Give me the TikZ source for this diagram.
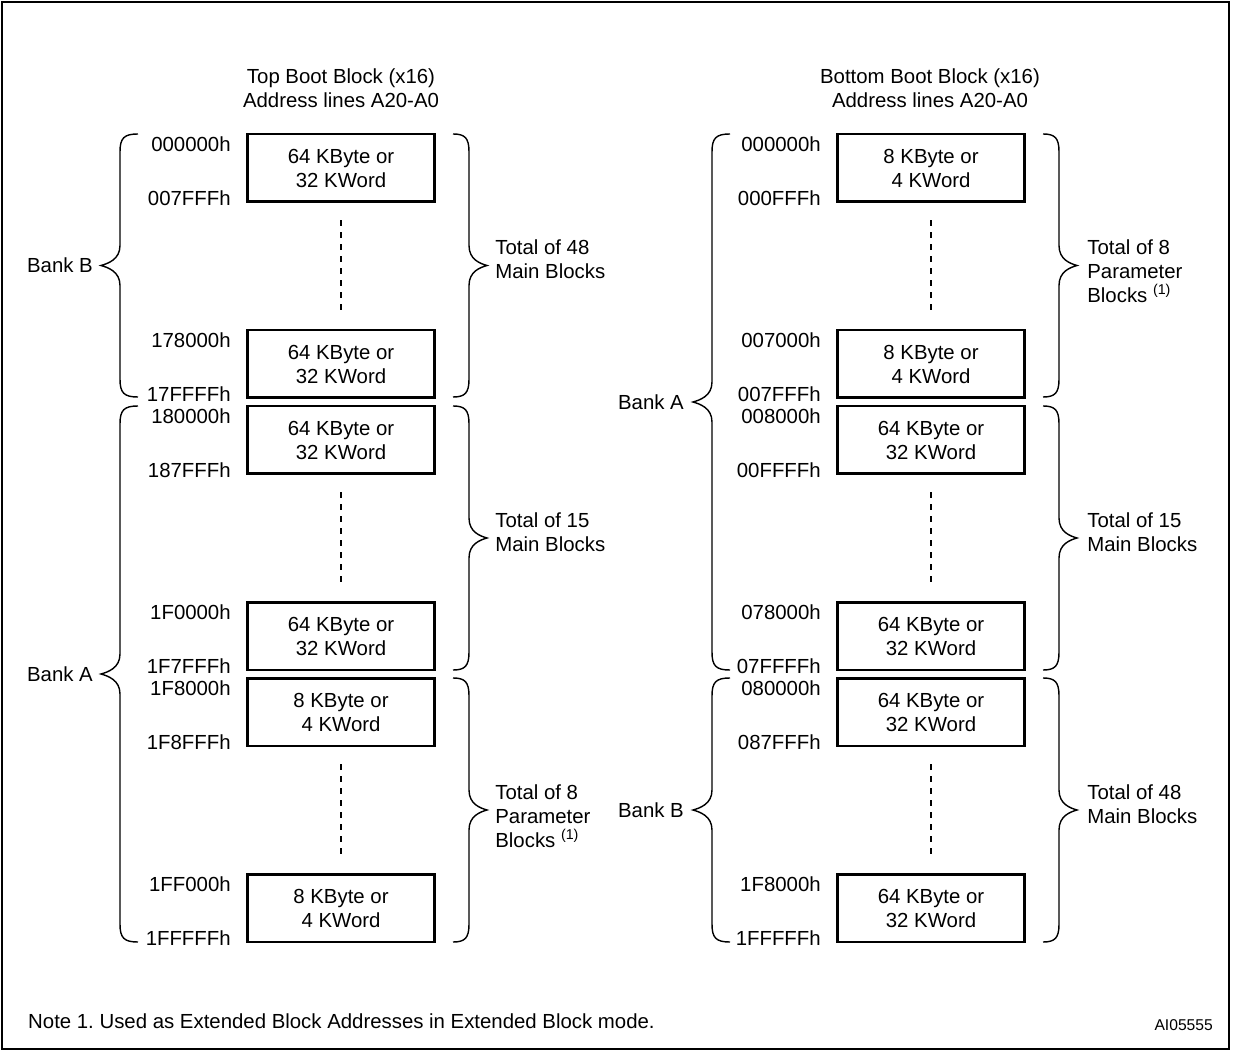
\documentclass[tikz,border=0pt]{standalone}
\usepackage{fontspec}
\setmainfont{Liberation Sans}
\usetikzlibrary{calc}
\frenchspacing

\tikzset{
  blk/.style={draw, line width=1.7pt, minimum width=3.74cm, minimum height=1.36cm,
              align=center, inner sep=0pt},
  adr/.style={anchor=east, inner sep=0pt},
  tot/.style={anchor=north west, align=left, inner sep=0pt},
  brc/.style={line width=0.8pt},
  gap/.style={line width=1.4pt, dash pattern=on 0.12cm off 0.12cm},
}

% brace opening to the right: hook end x, top y, bottom y
\newcommand{\leftbrc}[3]{%
  \pgfmathsetmacro{\bmid}{(#2+#3)/2}
  \draw[brc] (#1,#2) .. controls (#1-14,#2) and (#1-18,#2+4) .. (#1-18,#2+18)
    -- (#1-18,\bmid-20) .. controls (#1-18,\bmid-6) and (#1-30,\bmid-2) .. (#1-37,\bmid)
    .. controls (#1-30,\bmid+2) and (#1-18,\bmid+6) .. (#1-18,\bmid+20)
    -- (#1-18,#3-18) .. controls (#1-18,#3-4) and (#1-14,#3) .. (#1,#3);}
% brace opening to the left: hook start x, top y, bottom y
\newcommand{\rightbrc}[3]{%
  \pgfmathsetmacro{\bmid}{(#2+#3)/2}
  \draw[brc] (#1,#2) .. controls (#1+12,#2) and (#1+16,#2+4) .. (#1+16,#2+18)
    -- (#1+16,\bmid-20) .. controls (#1+16,\bmid-6) and (#1+27,\bmid-2) .. (#1+34,\bmid)
    .. controls (#1+27,\bmid+2) and (#1+16,\bmid+6) .. (#1+16,\bmid+20)
    -- (#1+16,#3-18) .. controls (#1+16,#3-4) and (#1+12,#3) .. (#1,#3);}

\begin{document}
\begin{tikzpicture}[x=0.02cm, y=-0.02cm,
  every node/.style={font=\fontsize{11.6pt}{13.66pt}\selectfont}]
\useasboundingbox (0,0) rectangle (1233,1053);
\draw [line width=1.2pt] (2,2) rectangle (1229,1049);

% titles
\node [align=center] (ttop) at (341,88) {Top Boot Block (x16)\\Address lines A20-A0};
\node [align=center] (tbot) at (930,88) {Bottom Boot Block (x16)\\Address lines A20-A0};

% top boot block column
\node [blk] (tb1) at (341,168) {64 KByte or\\32 KWord};
\node [blk] (tb2) at (341,364) {64 KByte or\\32 KWord};
\node [blk] (tb3) at (341,440) {64 KByte or\\32 KWord};
\node [blk] (tb4) at (341,636) {64 KByte or\\32 KWord};
\node [blk] (tb5) at (341,712) {8 KByte or\\4 KWord};
\node [blk] (tb6) at (341,908) {8 KByte or\\4 KWord};

% bottom boot block column
\node [blk] (bb1) at (931,168) {8 KByte or\\4 KWord};
\node [blk] (bb2) at (931,364) {8 KByte or\\4 KWord};
\node [blk] (bb3) at (931,440) {64 KByte or\\32 KWord};
\node [blk] (bb4) at (931,636) {64 KByte or\\32 KWord};
\node [blk] (bb5) at (931,712) {64 KByte or\\32 KWord};
\node [blk] (bb6) at (931,908) {64 KByte or\\32 KWord};

\foreach \n/\lo/\hi in {tb1/000000h/007FFFh, tb2/178000h/17FFFFh, tb3/180000h/187FFFh,
    tb4/1F0000h/1F7FFFh, tb5/1F8000h/1F8FFFh, tb6/1FF000h/1FFFFFh,
    bb1/000000h/000FFFh, bb2/007000h/007FFFh, bb3/008000h/00FFFFh,
    bb4/078000h/07FFFFh, bb5/080000h/087FFFh, bb6/1F8000h/1FFFFFh} {
  \node [adr] (\n-lo) at ($(\n.north west)+(-15,12)$) {\lo};
  \node [adr] (\n-hi) at ($(\n.south west)+(-15,-5)$) {\hi};
}

\foreach \a/\b in {tb1/tb2, tb3/tb4, tb5/tb6, bb1/bb2, bb3/bb4, bb5/bb6}
  \draw [gap] ($(\a.south)+(0,17)$) -- ($(\b.north)+(0,-19)$);

% braces, left column
\leftbrc{138}{134}{397}
\leftbrc{138}{406}{942}
\rightbrc{453}{134}{397}
\rightbrc{453}{406}{670}
\rightbrc{453}{678}{942}
\node [anchor=east] (bankB1) at (99,265.5) {Bank B};
\node [anchor=east] (bankA1) at (99,674) {Bank A};
\node [tot] (tot48a) at (495,239.5) {Total of 48\\Main Blocks};
\node [tot] (tot15a) at (495,512) {Total of 15\\Main Blocks};
\node [tot] (tot8a) at (495,784) {Total of 8\\Parameter\\Blocks \textsuperscript{(1)}};

% braces, right column
\leftbrc{730}{134}{670}
\leftbrc{730}{678}{942}
\rightbrc{1043}{134}{397}
\rightbrc{1043}{406}{670}
\rightbrc{1043}{678}{942}
\node [anchor=east] (bankA2) at (690,402) {Bank A};
\node [anchor=east] (bankB2) at (690,810) {Bank B};
\node [tot] (tot8b) at (1087,239.5) {Total of 8\\Parameter\\Blocks \textsuperscript{(1)}};
\node [tot] (tot15b) at (1087,512) {Total of 15\\Main Blocks};
\node [tot] (tot48b) at (1087,784) {Total of 48\\Main Blocks};

% footer
\node [anchor=west] (note) at (22,1021) {Note 1. Used as Extended Block Addresses in Extended Block mode.};
\node [anchor=east, font=\fontsize{8.9pt}{10pt}\selectfont] (fig) at (1219,1025) {AI05555};
\end{tikzpicture}
\end{document}
